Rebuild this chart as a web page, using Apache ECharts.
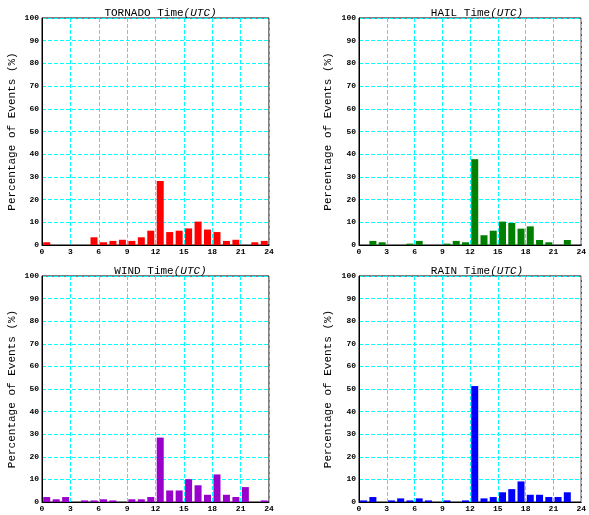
<!DOCTYPE html>
<html><head><meta charset="utf-8">
<script src="https://cdn.jsdelivr.net/npm/echarts@6/dist/echarts.min.js"></script>
<style>html,body{margin:0;padding:0;background:#fff}#c{width:589px;height:515px}</style>
</head><body><div id="c"></div>
<script>
const hours = [0,1,2,3,4,5,6,7,8,9,10,11,12,13,14,15,16,17,18,19,20,21,22,23];
const xTicks = [0,3,6,9,12,15,18,21,24];
const yTicks = [0,10,20,30,40,50,60,70,80,90,100];
const tornado = [1.2,0,0,0,0,3.4,1.2,1.8,2.3,1.8,3.4,6.3,28.2,5.7,6.3,7.3,10.3,6.8,5.7,1.8,2.3,0,1.2,1.8];
const hail    = [0,1.8,1.2,0,0,0.6,1.8,0,0,0.6,1.8,1.2,37.8,4.3,6.3,10.3,9.7,7.2,8.2,2.2,1.2,0,2.2,0];
const wind    = [2.2,1.2,2.2,0,0.7,0.7,1.2,0.7,0,1.2,1.2,2.2,28.5,5.1,5.1,10.1,7.4,3.2,12.2,3.2,2.2,6.6,0,0.7];
const rain    = [0.7,2.2,0,0.7,1.6,0.7,1.6,0.7,0,0.7,0,0.7,51.3,1.6,2.2,4.3,5.7,9.1,3.2,3.2,2.2,2.2,4.3,0];
const panels = [
  {name:'TORNADO', values: tornado, color:'#ff0000'},
  {name:'HAIL', values: hail, color:'#008000'},
  {name:'WIND', values: wind, color:'#9900cc'},
  {name:'RAIN', values: rain, color:'#0000ff'}
];
const yName = 'Percentage of Events (%)';
const mono = '"Liberation Mono", "DejaVu Sans Mono", monospace';
const grids = [
  {left:42, top:18, width:227, height:227},
  {left:359, top:18, width:226, height:227},
  {left:42, top:276, width:227, height:226},
  {left:359, top:276, width:226, height:226}
];
const chart = echarts.init(document.getElementById('c'), null, {renderer:'canvas'});
const option = {
  backgroundColor:'#fff',
  animation:false,
  title: panels.map((p,i)=>({
    text: '{n|'+p.name+' Time}{i|(UTC)}',
    left: grids[i].left + grids[i].width/2, top: grids[i].top - 15, textAlign:'center',
    textStyle:{ fontWeight:'normal', rich:{
      n:{fontFamily:mono, fontSize:11, fontWeight:'normal', color:'#000'},
      i:{fontFamily:mono, fontSize:11, fontWeight:'normal', fontStyle:'italic', color:'#000'}
    }}
  })),
  grid: grids.map(g=>Object.assign({show:true, borderColor:'#000', borderWidth:1, backgroundColor:'transparent'}, g)),
  xAxis: panels.map((p,i)=>({
    type:'value', gridIndex:i, min:xTicks[0], max:xTicks[xTicks.length-1], interval:3,
    axisLine:{show:true, lineStyle:{color:'#000'}},
    axisTick:{show:false},
    axisLabel:{fontFamily:mono, fontSize:8, fontWeight:'bold', color:'#000', margin:3,
      formatter: v => xTicks.includes(v) ? String(v) : ''},
    splitLine:{show:true, lineStyle:{color:'#00ffff', type:[4,2], width:1}}
  })),
  yAxis: panels.map((p,i)=>({
    type:'value', gridIndex:i, min:yTicks[0], max:yTicks[yTicks.length-1], interval:10,
    name: yName, nameLocation:'middle', nameGap: i%2===0 ? 24 : 25,
    nameTextStyle:{fontFamily:mono, fontSize:11, color:'#000'},
    axisLine:{show:true, lineStyle:{color:'#000'}},
    axisTick:{show:false},
    axisLabel:{fontFamily:mono, fontSize:8, fontWeight:'bold', color:'#000', margin:3,
      formatter: v => yTicks.includes(v) ? String(v) : ''},
    splitLine:{show:true, lineStyle:{color:'#00ffff', type:[4,2], width:1}}
  })),
  series: panels.map((p,i)=>({
    type:'bar', xAxisIndex:i, yAxisIndex:i, barWidth:7,
    itemStyle:{color:p.color},
    data: hours.map((h,k)=>[h+0.5, p.values[k]])
  }))
};
chart.setOption(option);
</script></body></html>
